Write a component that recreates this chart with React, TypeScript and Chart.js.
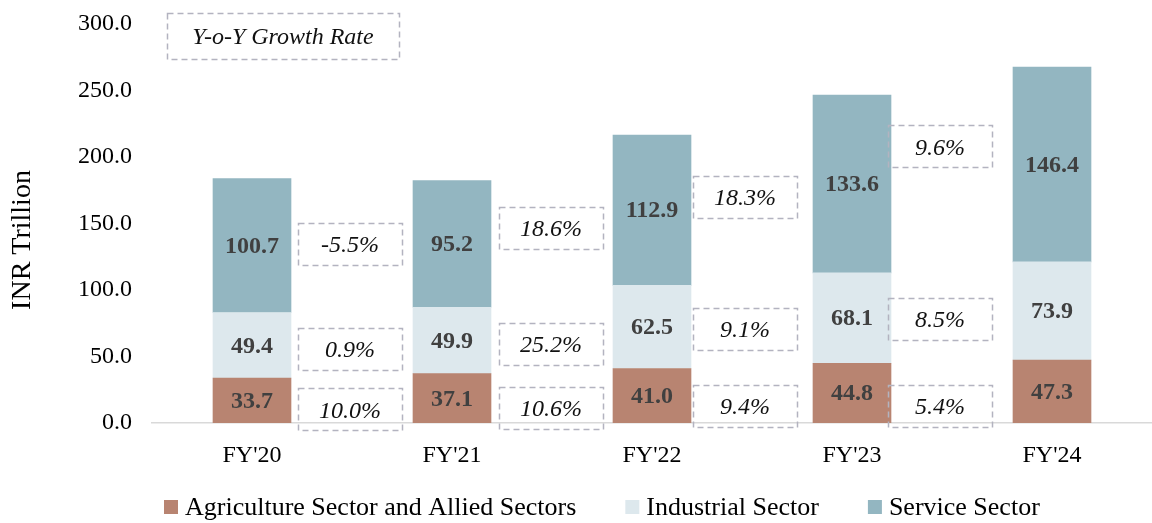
import React, { useEffect, useRef } from "react";
import { Chart, registerables } from "chart.js";

Chart.register(...registerables);

const categories = ["FY'20", "FY'21", "FY'22", "FY'23", "FY'24"];
const agriculture = [33.7, 37.1, 41.0, 44.8, 47.3];
const industrial = [49.4, 49.9, 62.5, 68.1, 73.9];
const service = [100.7, 95.2, 112.9, 133.6, 146.4];

const agriGrowth = [10.0, 10.6, 9.4, 5.4];
const industrialGrowth = [0.9, 25.2, 9.1, 8.5];
const serviceGrowth = [-5.5, 18.6, 18.3, 9.6];

const seriesNames = ["Agriculture Sector and Allied Sectors", "Industrial Sector", "Service Sector"];
const yAxisTitle = "INR Trillion";
const growthTitle = "Y-o-Y Growth Rate";

// annotation placement (data coordinates: category index, y value)
const growthBoxX = [0.49, 1.495, 2.465, 3.44];
const agriBoxY = [10.2, 11.3, 12.8, 12.8];
const indBoxY = [55.6, 59.4, 70.7, 78.2];
const servBoxY = [134.6, 146.6, 170, 208];
const titleBoxPos = { x: 0.155, y: 291 };

const FONT = "'Liberation Serif', 'Times New Roman', serif";
const COLORS = ["#B88471", "#DDE8ED", "#93B6C1"];

function drawDashedBox(ctx: CanvasRenderingContext2D, cx: number, cy: number, w: number, h: number, text: string) {
  ctx.save();
  ctx.strokeStyle = "#B3B3C0";
  ctx.lineWidth = 1.5;
  ctx.setLineDash([6, 4]);
  ctx.strokeRect(Math.round(cx - w / 2) + 0.5, Math.round(cy - h / 2) + 0.5, w, h);
  ctx.setLineDash([]);
  ctx.fillStyle = "#111111";
  ctx.font = `italic 24px ${FONT}`;
  ctx.textAlign = "center";
  ctx.textBaseline = "middle";
  ctx.fillText(text, cx, cy + 2);
  ctx.restore();
}

const annotationPlugin = {
  id: "growthAnnotations",
  afterDatasetsDraw(chart: any) {
    const ctx = chart.ctx as CanvasRenderingContext2D;
    const xs = chart.scales.x;
    const ys = chart.scales.y;
    // segment value labels
    chart.data.datasets.forEach((ds: any, di: number) => {
      const meta = chart.getDatasetMeta(di);
      meta.data.forEach((bar: any, i: number) => {
        const v = ds.data[i];
        const cy = (bar.y + bar.base) / 2;
        ctx.save();
        ctx.fillStyle = "#404040";
        ctx.font = `bold 24px ${FONT}`;
        ctx.textAlign = "center";
        ctx.textBaseline = "middle";
        ctx.fillText(v.toFixed(1), bar.x, cy + 1);
        ctx.restore();
      });
    });
    const groups = [
      { vals: agriGrowth, ys: agriBoxY },
      { vals: industrialGrowth, ys: indBoxY },
      { vals: serviceGrowth, ys: servBoxY },
    ];
    groups.forEach((g) => {
      g.vals.forEach((v, i) => {
        const cx = xs.getPixelForValue(growthBoxX[i]);
        const cy = ys.getPixelForValue(g.ys[i]);
        drawDashedBox(ctx, cx, cy, 104, 42, `${v.toFixed(1)}%`);
      });
    });
    drawDashedBox(
      ctx,
      xs.getPixelForValue(titleBoxPos.x),
      ys.getPixelForValue(titleBoxPos.y),
      232,
      46,
      growthTitle
    );
  },
  afterDraw(chart: any) {
    const ctx = chart.ctx as CanvasRenderingContext2D;
    // y-axis title
    ctx.save();
    ctx.translate(23, 240);
    ctx.rotate(-Math.PI / 2);
    ctx.font = `28px ${FONT}`;
    ctx.fillStyle = "#000000";
    ctx.textAlign = "center";
    ctx.textBaseline = "middle";
    ctx.fillText(yAxisTitle, 0, 0);
    ctx.restore();
    // legend
    ctx.save();
    ctx.font = `26px ${FONT}`;
    ctx.textBaseline = "middle";
    ctx.textAlign = "left";
    const legendY = 507;
    let x = 164;
    chart.data.datasets.forEach((ds: any) => {
      ctx.fillStyle = ds.backgroundColor;
      ctx.fillRect(x, legendY - 7, 14, 14);
      x += 14 + 7;
      ctx.fillStyle = "#000000";
      ctx.fillText(ds.label, x, legendY + 1);
      x += ctx.measureText(ds.label).width + 49;
    });
    ctx.restore();
  },
};

export default function App() {
  const canvasRef = useRef<HTMLCanvasElement | null>(null);

  useEffect(() => {
    document.body.style.margin = "0";
    const canvas = canvasRef.current;
    if (!canvas) return;
    const chart = new Chart(canvas, {
      type: "bar",
      data: {
        labels: categories,
        datasets: [agriculture, industrial, service].map((d, i) => ({
          label: seriesNames[i],
          data: d,
          backgroundColor: COLORS[i],
          borderWidth: 0,
          barThickness: 78,
        })),
      },
      options: {
        animation: false,
        responsive: false,
        maintainAspectRatio: false,
        layout: { padding: { top: 24, right: 0, left: 0, bottom: 0 } },
        plugins: {
          legend: { display: false },
          tooltip: { enabled: false },
        },
        scales: {
          x: {
            stacked: true,
            grid: { display: false, drawTicks: false },
            border: { display: true, color: "#D9D9D9", width: 1.5 },
            ticks: { font: { family: FONT, size: 24 }, color: "#000000", padding: 18 },
            afterFit: (s: any) => {
              s.height = 100;
              s.paddingLeft = 0;
              s.paddingRight = 0;
            },
          },
          y: {
            stacked: true,
            min: 0,
            max: 300,
            grid: { display: false, drawTicks: false },
            border: { display: false },
            ticks: {
              stepSize: 50,
              font: { family: FONT, size: 24 },
              color: "#000000",
              padding: 20,
              callback: (v: any) => Number(v).toFixed(1),
            },
            afterFit: (s: any) => {
              s.width = 152;
              s.paddingTop = 0;
              s.paddingBottom = 0;
            },
          },
        },
      },
      plugins: [annotationPlugin],
    } as any);
    return () => chart.destroy();
  }, []);

  return (
    <div style={{ width: 1152, height: 523 }}>
      <canvas ref={canvasRef} width={1152} height={523} style={{ display: "block" }} />
    </div>
  );
}
